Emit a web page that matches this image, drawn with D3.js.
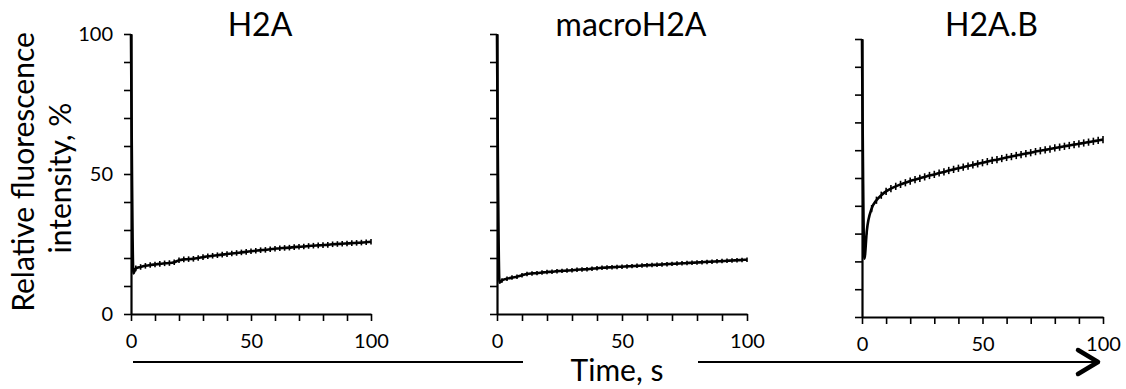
<!DOCTYPE html>
<html>
<head>
<meta charset="utf-8">
<script src="https://cdn.jsdelivr.net/npm/d3@7"></script>
<style>
  body { margin: 0; background: #fff; }
  svg { display: block; font-family: Lato, "Open Sans", sans-serif; }
</style>
</head>
<body>
<svg id="chart" width="1126" height="389"></svg>
<script>
// tiempos de medida (s)
const times = [0, 1, 2, 4, 6, 8, 10, 12, 14, 16, 18, 20, 22, 24, 26, 28, 30, 32, 34, 36, 38, 40,
  42, 44, 46, 48, 50, 52, 54, 56, 58, 60, 62, 64, 66, 68, 70, 72, 74, 76, 78, 80,
  82, 84, 86, 88, 90, 92, 94, 96, 98, 100];

const h2a = [100, 14.5, 16.3, 16.8, 17.2, 17.5, 17.7, 17.9, 18.1, 18.2, 18.5, 19.2, 19.5, 19.6, 19.7, 20.0,
  20.3, 20.6, 20.8, 21.0, 21.2, 21.4, 21.6, 21.8, 22.0, 22.2, 22.4, 22.6, 22.8, 22.9, 23.1,
  23.3, 23.5, 23.6, 23.7, 23.9, 24.0, 24.1, 24.3, 24.4, 24.5, 24.6, 24.7, 24.9, 25.0, 25.1,
  25.2, 25.3, 25.4, 25.5, 25.6, 25.8];

const macroH2a = [100, 11.2, 12.0, 12.6, 13.0, 13.3, 13.8, 14.3, 14.5, 14.6, 14.8, 15.0, 15.1, 15.3, 15.4,
  15.5, 15.6, 15.8, 15.9, 16.0, 16.2, 16.3, 16.5, 16.6, 16.7, 16.8, 16.9, 17.0, 17.1, 17.2,
  17.3, 17.4, 17.5, 17.6, 17.7, 17.8, 17.9, 18.0, 18.1, 18.2, 18.3, 18.4, 18.5, 18.6, 18.7,
  18.8, 18.9, 19.0, 19.1, 19.2, 19.3, 19.4];

const h2aB = [100, 21, 31, 39, 42, 43.8, 45.2, 46.2, 47.0, 47.7, 48.3, 48.9, 49.4, 49.9, 50.4, 50.9,
  51.3, 51.8, 52.2, 52.7, 53.1, 53.5, 53.9, 54.3, 54.7, 55.1, 55.5, 55.9, 56.3, 56.6, 57.0,
  57.4, 57.7, 58.1, 58.4, 58.8, 59.1, 59.5, 59.8, 60.1, 60.4, 60.8, 61.1, 61.4, 61.7, 62.0,
  62.3, 62.6, 62.9, 63.2, 63.5, 63.8];

const titles = ["H2A", "macroH2A", "H2A.B"];
const errors = [1.0, 0.8, 1.3];
const xTickLabels = [0, 50, 100];
const yTickLabels = [0, 50, 100];

const svg = d3.select("#chart");

// posición de cada panel
const panels = [
  { serie: h2a,      x0: 131, x1: 371,  y0: 314, y1: 34, yLabels: true },
  { serie: macroH2a, x0: 497, x1: 747,  y0: 314, y1: 34, yLabels: false },
  { serie: h2aB,     x0: 862, x1: 1103, y0: 317, y1: 39, yLabels: false }
];

panels.forEach((p, i) => {
  const x = d3.scaleLinear([0, 100], [p.x0, p.x1]);
  const y = d3.scaleLinear([0, 100], [p.y0, p.y1]);
  const g = svg.append("g");

  // eje Y
  const yAxis = d3.axisLeft(y)
    .tickValues(d3.range(0, 101, 10))
    .tickSize(7)
    .tickSizeOuter(0)
    .tickFormat(d => (p.yLabels && yTickLabels.includes(d)) ? d : "");
  g.append("g")
    .attr("transform", `translate(${p.x0},0)`)
    .call(yAxis)
    .call(a => a.select(".domain").attr("stroke-width", 2.2))
    .call(a => a.selectAll(".tick line").attr("stroke-width", 1.6))
    .call(a => a.selectAll(".tick text").attr("font-size", 20).attr("font-family", "Lato").attr("dx", -8));

  // eje X
  const xAxis = d3.axisBottom(x)
    .tickValues(d3.range(0, 101, 10))
    .tickSize(7)
    .tickSizeOuter(0)
    .tickFormat(d => xTickLabels.includes(d) ? d : "");
  g.append("g")
    .attr("transform", `translate(0,${p.y0})`)
    .call(xAxis)
    .call(a => a.select(".domain").attr("stroke-width", 2.2))
    .call(a => a.selectAll(".tick line").attr("stroke-width", 1.6))
    .call(a => a.selectAll(".tick text").attr("font-size", 20).attr("font-family", "Lato").attr("dy", "1.2em"));

  const data = times.map((t, k) => ({ t: t, v: p.serie[k] }));

  // barras de error
  g.selectAll("line.err")
    .data(data.slice(2))
    .enter()
    .append("line")
    .attr("class", "err")
    .attr("x1", d => x(d.t))
    .attr("x2", d => x(d.t))
    .attr("y1", d => y(d.v - errors[i]))
    .attr("y2", d => y(d.v + errors[i]))
    .attr("stroke", "#000")
    .attr("stroke-width", 1.6);

  const line = d3.line()
    .x(d => x(d.t))
    .y(d => y(d.v))
    .curve(d3.curveMonotoneX);

  g.append("path")
    .attr("d", line(data))
    .attr("fill", "none")
    .attr("stroke", "#000")
    .attr("stroke-width", 2.6)
    .attr("stroke-linejoin", "round");

  g.append("text")
    .attr("x", (p.x0 + p.x1) / 2 + 9)
    .attr("y", 36)
    .attr("text-anchor", "middle")
    .attr("font-size", 32)
    .text(titles[i]);
});

// título eje Y
svg.append("text")
  .attr("transform", "translate(34,172) rotate(-90)")
  .attr("text-anchor", "middle")
  .attr("font-size", 30)
  .text("Relative fluorescence");
svg.append("text")
  .attr("transform", "translate(71,178) rotate(-90)")
  .attr("text-anchor", "middle")
  .attr("font-size", 30)
  .text("intensity, %");

// título eje X con flecha
svg.append("text")
  .attr("x", 617)
  .attr("y", 381)
  .attr("text-anchor", "middle")
  .attr("font-size", 30)
  .text("Time, s");

svg.append("line")
  .attr("x1", 133).attr("x2", 523)
  .attr("y1", 362).attr("y2", 362)
  .attr("stroke", "#000").attr("stroke-width", 2);
svg.append("line")
  .attr("x1", 698).attr("x2", 1098)
  .attr("y1", 362).attr("y2", 362)
  .attr("stroke", "#000").attr("stroke-width", 2);
svg.append("path")
  .attr("d", "M1078,350 L1098,362 L1078,374")
  .attr("fill", "none")
  .attr("stroke", "#000")
  .attr("stroke-width", 4.5)
  .attr("stroke-linecap", "round")
  .attr("stroke-linejoin", "round");
</script>
</body>
</html>
